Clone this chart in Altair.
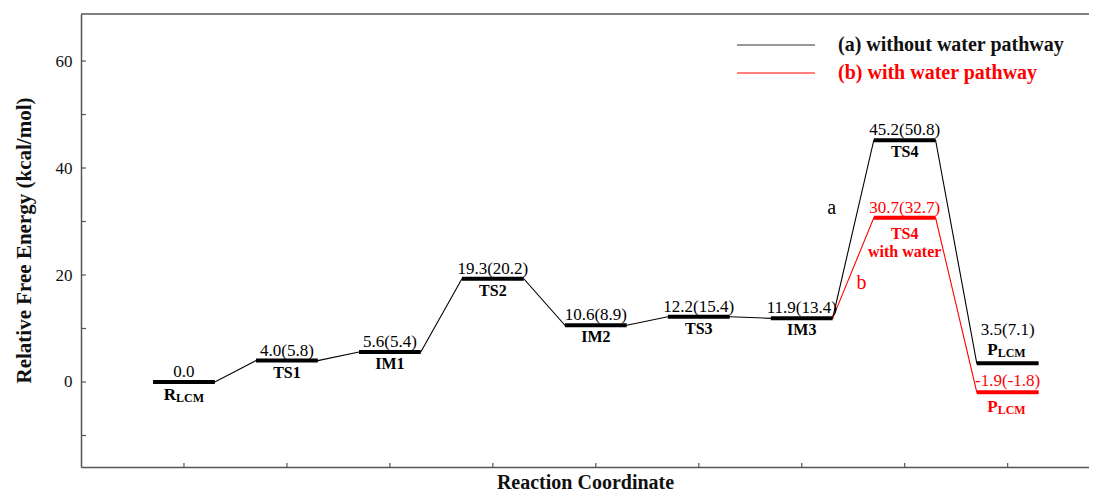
import altair as alt
import pandas as pd

# ---------------- data ----------------
positions = [1, 2, 3, 4, 5, 6, 7, 8, 9]
names_a = ["R", "TS1", "IM1", "TS2", "IM2", "TS3", "IM3", "TS4", "P"]
energy_a = [0.0, 4.0, 5.6, 19.3, 10.6, 12.2, 11.9, 45.2, 3.5]
values_a = ["0.0", "4.0(5.8)", "5.6(5.4)", "19.3(20.2)", "10.6(8.9)",
            "12.2(15.4)", "11.9(13.4)", "45.2(50.8)", "3.5(7.1)"]

pos_b = [7, 8, 9]
energy_b = [11.9, 30.7, -1.9]
values_b = ["", "30.7(32.7)", "-1.9(-1.8)"]

y_tick_values = [-10, 0, 10, 20, 30, 40, 50, 60]
y_label_values = [0, 20, 40, 60]
x_tick_values = [1, 2, 3, 4, 5, 6, 7, 8, 9]

legend_labels = ["(a) without water pathway", "(b) with water pathway"]
path_letters = ["a", "b"]
letter_pos = [7.29, 7.58]
letter_energy = [32.5, 18.5]

HALF = 0.3
BLACK = "#000000"
RED = "#ff0000"
FONT = "Liberation Serif"
AXC = "#555555"

# ---------------- tables ----------------
def path_points(pos, en):
    rows = []
    for i, (p, e) in enumerate(zip(pos, en)):
        rows.append({"x": p - HALF, "e": e, "o": 2 * i})
        rows.append({"x": p + HALF, "e": e, "o": 2 * i + 1})
    return pd.DataFrame(rows)

line_a = path_points(positions, energy_a)
line_b = path_points(pos_b, energy_b).iloc[1:]  # starts at right end of IM3

lev_a = pd.DataFrame({"pos": positions, "e": energy_a, "val": values_a, "name": names_a})
lev_b = pd.DataFrame({"pos": pos_b, "e": energy_b, "val": values_b}).iloc[1:]

xscale = alt.Scale(domain=[0, 9.79], nice=False, zero=False)
yscale = alt.Scale(domain=[-15.89, 68.79], nice=False, zero=False)

xaxis = alt.Axis(title="Reaction Coordinate", labels=False, ticks=False, grid=False,
                 titlePadding=5)
yaxis = alt.Axis(title="Relative Free Energy (kcal/mol)", values=y_label_values,
                 ticks=False, grid=False, labelPadding=9, titleFontSize=21,
                 titleX=-57, titleY=226, titleAngle=-90, titleBaseline="middle",
                 titleAlign="center")


def X(f):
    return alt.X(f, type="quantitative", scale=xscale, axis=xaxis)


def Y(f):
    return alt.Y(f, type="quantitative", scale=yscale, axis=yaxis)


layers = []

# connector lines
layers.append(alt.Chart(line_a).mark_line(color=BLACK, strokeWidth=1.1).encode(
    x=X("x"), y=Y("e"), order="o:Q"))
layers.append(alt.Chart(line_b).mark_line(color=RED, strokeWidth=1.1).encode(
    x=X("x"), y=Y("e"), order="o:Q"))

# thick levels
layers.append(alt.Chart(lev_a).transform_calculate(
    x1=f"datum.pos - {HALF}", x2=f"datum.pos + {HALF}").mark_rule(
    color=BLACK, strokeWidth=4).encode(x=X("x1"), x2="x2:Q", y=Y("e")))
layers.append(alt.Chart(lev_b).transform_calculate(
    x1=f"datum.pos - {HALF}", x2=f"datum.pos + {HALF}").mark_rule(
    color=RED, strokeWidth=4).encode(x=X("x1"), x2="x2:Q", y=Y("e")))

# value labels (black)
val_style = dict(font=FONT, fontSize=17, baseline="alphabetic", align="center")
layers.append(alt.Chart(lev_a).transform_filter("datum.name != 'P'").mark_text(
    color=BLACK, dy=-5, **val_style).encode(x=X("pos"), y=Y("e"), text="val:N"))
layers.append(alt.Chart(lev_a).transform_filter("datum.name == 'P'").mark_text(
    color=BLACK, dy=-28, **val_style).encode(x=X("pos"), y=Y("e"), text="val:N"))
# value labels (red)
layers.append(alt.Chart(lev_b).transform_filter("datum.pos == 8").mark_text(
    color=RED, dy=-5, **val_style).encode(x=X("pos"), y=Y("e"), text="val:N"))
layers.append(alt.Chart(lev_b).transform_filter("datum.pos == 9").mark_text(
    color=RED, dy=-6, **val_style).encode(x=X("pos"), y=Y("e"), text="val:N"))

# name labels
name_style = dict(font=FONT, fontSize=16, fontWeight="bold", baseline="alphabetic")
layers.append(alt.Chart(lev_a).transform_filter(
    "datum.name != 'R' && datum.name != 'P'").mark_text(
    color=BLACK, dy=17, align="center", **name_style).encode(
    x=X("pos"), y=Y("e"), text="name:N"))

sub_main = dict(font=FONT, fontSize=17, fontWeight="bold", baseline="alphabetic", align="right")
sub_small = dict(font=FONT, fontSize=12, fontWeight="bold", baseline="alphabetic", align="left")

# R_LCM
layers.append(alt.Chart(lev_a).transform_filter("datum.name == 'R'").mark_text(
    color=BLACK, dx=-8, dy=18, **sub_main).encode(x=X("pos"), y=Y("e"), text="name:N"))
layers.append(alt.Chart(lev_a).transform_filter("datum.name == 'R'").mark_text(
    color=BLACK, dx=-8, dy=20, text="LCM", **sub_small).encode(x=X("pos"), y=Y("e")))
# P_LCM black (above its level)
layers.append(alt.Chart(lev_a).transform_filter("datum.name == 'P'").mark_text(
    color=BLACK, dx=-10, dy=-8, **sub_main).encode(x=X("pos"), y=Y("e"), text="name:N"))
layers.append(alt.Chart(lev_a).transform_filter("datum.name == 'P'").mark_text(
    color=BLACK, dx=-10, dy=-6, text="LCM", **sub_small).encode(x=X("pos"), y=Y("e")))
# P_LCM red (below its level)
layers.append(alt.Chart(lev_b).transform_filter("datum.pos == 9").mark_text(
    color=RED, dx=-10, dy=20, text="P", **sub_main).encode(x=X("pos"), y=Y("e")))
layers.append(alt.Chart(lev_b).transform_filter("datum.pos == 9").mark_text(
    color=RED, dx=-10, dy=22, text="LCM", **sub_small).encode(x=X("pos"), y=Y("e")))
# TS4 with water
layers.append(alt.Chart(lev_b).transform_filter("datum.pos == 8").mark_text(
    color=RED, dy=21, text="TS4", align="center", **name_style).encode(x=X("pos"), y=Y("e")))
layers.append(alt.Chart(lev_b).transform_filter("datum.pos == 8").mark_text(
    color=RED, dy=39, text="with water", align="center", **name_style).encode(x=X("pos"), y=Y("e")))

# path letters a / b
letters = pd.DataFrame({"t": path_letters, "x": letter_pos, "e": letter_energy, "c": [BLACK, RED]})
layers.append(alt.Chart(letters).mark_text(font=FONT, fontSize=20, baseline="middle",
                                           align="center").encode(
    x=X("x"), y=Y("e"), text="t:N", color=alt.Color("c:N", scale=None)))

# inward ticks
layers.append(alt.Chart(pd.DataFrame({"yt": y_tick_values})).mark_rule(
    color=AXC, strokeWidth=1.2).encode(y=Y("yt"), x=alt.value(0), x2=alt.value(5)))
layers.append(alt.Chart(pd.DataFrame({"xt": x_tick_values})).mark_rule(
    color=AXC, strokeWidth=1.2).encode(x=X("xt"), y=alt.value(453), y2=alt.value(449)))
# top border
layers.append(alt.Chart(pd.DataFrame({"k": [0]})).mark_rule(
    color=AXC, strokeWidth=1.5).encode(x=alt.value(0), x2=alt.value(1008), y=alt.value(0)))

# legend
leg = pd.DataFrame({"k": [0]})
layers.append(alt.Chart(leg).mark_rule(color="#333333", strokeWidth=1.2).encode(
    x=alt.value(656), x2=alt.value(734), y=alt.value(31)))
layers.append(alt.Chart(leg).mark_rule(color=RED, strokeWidth=1.2).encode(
    x=alt.value(656), x2=alt.value(734), y=alt.value(59)))
layers.append(alt.Chart(leg).mark_text(font=FONT, fontSize=20, fontWeight="bold", color="#111111",
                                       align="left", baseline="middle", text=legend_labels[0]).encode(
    x=alt.value(757), y=alt.value(31)))
layers.append(alt.Chart(leg).mark_text(font=FONT, fontSize=20, fontWeight="bold", color=RED,
                                       align="left", baseline="middle", text=legend_labels[1]).encode(
    x=alt.value(757), y=alt.value(59)))

chart = alt.layer(*layers).properties(
    width=1008, height=453,
    autosize=alt.AutoSizeParams(type="none"),
    padding={"left": 73, "top": 6, "right": 0, "bottom": 26},
).configure_view(stroke=None).configure_axis(
    domainColor=AXC, domainWidth=1.5, labelFont=FONT, labelFontSize=17, labelColor="#111111",
    titleFont=FONT, titleFontSize=20, titleFontWeight="bold", titleColor="#111111",
)

chart.save("out.html", embed_options={"renderer": "svg", "actions": False})
